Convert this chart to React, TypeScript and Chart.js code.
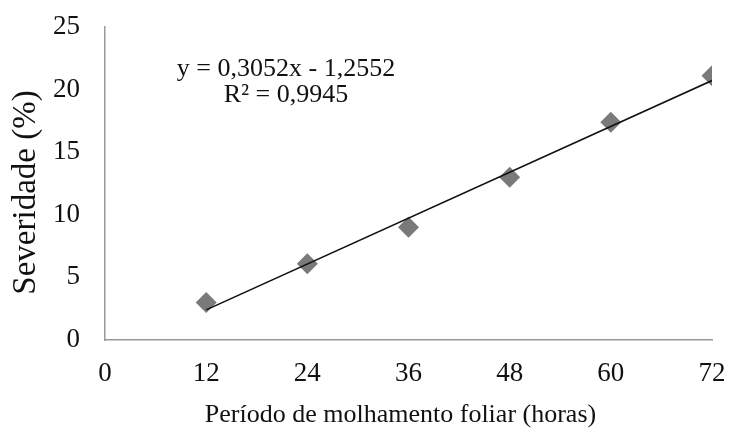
import React, { useEffect, useRef } from "react";
import { Chart, registerables } from "chart.js";

Chart.register(...registerables);

const hours: number[] = [12, 24, 36, 48, 60, 72];
const severity: number[] = [3.0, 6.1, 9.0, 13.0, 17.4, 21.1];
const trendSlope = 0.3052;
const trendIntercept = -1.2552;
const equationLines: string[] = ["y = 0,3052x - 1,2552", "R² = 0,9945"];
const xTitle = "Período de molhamento foliar (horas)";
const yTitle = "Severidade (%)";

const FONT = "'Liberation Serif', 'Times New Roman', serif";

const textPlugin = {
  id: "textLayer",
  afterDraw(chart: any) {
    const { ctx, chartArea } = chart;
    ctx.save();
    ctx.fillStyle = "#111";
    ctx.textAlign = "center";
    // regression equation
    ctx.font = `26px ${FONT}`;
    ctx.textBaseline = "alphabetic";
    const cx = chartArea.left + 181;
    ctx.fillText(equationLines[0], cx, chartArea.top + 49);
    ctx.fillText(equationLines[1], cx, chartArea.top + 75);
    // axis titles
    ctx.textBaseline = "middle";
    ctx.font = `26px ${FONT}`;
    ctx.fillText(xTitle, (chartArea.left + chartArea.right) / 2 - 8, chart.height - 15);
    ctx.font = `33px ${FONT}`;
    ctx.translate(26, (chartArea.top + chartArea.bottom) / 2 + 9);
    ctx.rotate(-Math.PI / 2);
    ctx.fillText(yTitle, 0, 0);
    ctx.restore();
  },
};

export default function App() {
  const ref = useRef<HTMLCanvasElement | null>(null);

  useEffect(() => {
    if (!ref.current) return;
    const x0 = hours[0];
    const x1 = hours[hours.length - 1];
    const chart = new Chart(ref.current, {
      type: "scatter",
      data: {
        datasets: [
          {
            type: "line",
            label: "trend",
            data: [
              { x: x0, y: trendSlope * x0 + trendIntercept },
              { x: x1, y: trendSlope * x1 + trendIntercept },
            ],
            borderColor: "#111",
            borderWidth: 1.6,
            pointRadius: 0,
            fill: false,
          } as any,
          {
            label: "Severidade",
            data: hours.map((h, i) => ({ x: h, y: severity[i] })),
            backgroundColor: "#7a7a7a",
            borderColor: "#7a7a7a",
            borderWidth: 0,
            pointStyle: "rectRot",
            pointRadius: 10.5,
          },
        ],
      },
      options: {
        responsive: false,
        animation: false,
        layout: { padding: { top: 27, right: 18, left: 0, bottom: 0 } },
        plugins: {
          legend: { display: false },
          tooltip: { enabled: false },
        },
        scales: {
          x: {
            type: "linear",
            min: 0,
            max: 72,
            afterFit: (s: any) => {
              s.height = 90;
              s.paddingLeft = 0;
              s.paddingRight = 0;
            },
            ticks: {
              stepSize: 12,
              padding: 18,
              color: "#111",
              font: { family: FONT, size: 27 },
            },
            grid: { display: false, drawTicks: false },
            border: { display: true, color: "#9a9a9a", width: 1.5 },
            title: { display: false },
          },
          y: {
            type: "linear",
            min: 0,
            max: 25,
            afterFit: (s: any) => {
              s.width = 105;
              s.paddingTop = 0;
              s.paddingBottom = 0;
            },
            ticks: {
              stepSize: 5,
              padding: 25,
              color: "#111",
              font: { family: FONT, size: 27 },
            },
            grid: { display: false, drawTicks: false },
            border: { display: true, color: "#9a9a9a", width: 1.5 },
            title: { display: false },
          },
        },
      },
      plugins: [textPlugin],
    });
    return () => chart.destroy();
  }, []);

  return (
    <div
      style={{
        position: "fixed",
        left: 0,
        top: 0,
        width: 730,
        height: 430,
        background: "#fff",
      }}
    >
      <canvas ref={ref} width={730} height={430} />
    </div>
  );
}
